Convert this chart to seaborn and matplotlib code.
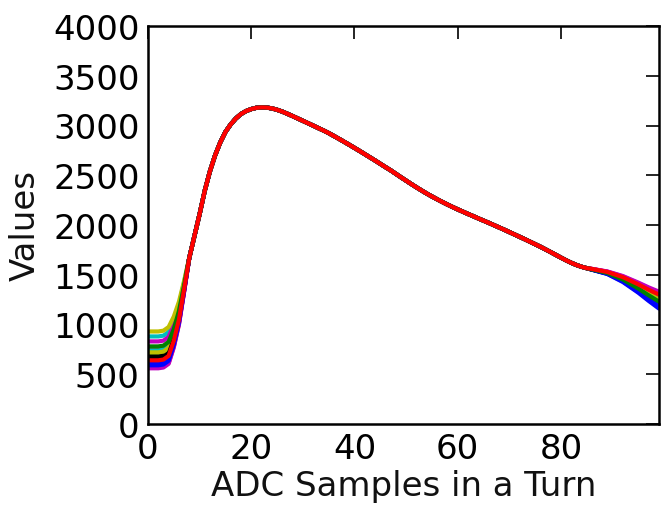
import numpy as np
import pandas as pd
import matplotlib
matplotlib.use("Agg")
import matplotlib.pyplot as plt
import seaborn as sns

# ---- data ----
line_colors = ["b", "g", "r", "c", "m", "y", "k",
               "b", "g", "r", "c", "m", "y", "k",
               "b", "g", "r"]

head_x = [0, 1, 2, 3, 4, 5, 6, 7]
heads = [
    [600, 600, 600, 608, 645, 804, 1025, 1342],
    [700, 700, 700, 708, 745, 887, 1087, 1372],
    [760, 760, 760, 768, 805, 938, 1124, 1389],
    [880, 880, 880, 888, 925, 1038, 1199, 1425],
    [830, 830, 830, 838, 875, 996, 1168, 1410],
    [930, 930, 930, 938, 975, 1080, 1230, 1440],
    [680, 680, 680, 688, 725, 871, 1075, 1366],
    [620, 620, 620, 628, 665, 820, 1037, 1348],
    [650, 650, 650, 658, 695, 845, 1056, 1357],
    [570, 570, 570, 578, 615, 778, 1006, 1333],
    [740, 740, 740, 748, 785, 921, 1112, 1384],
    [560, 560, 560, 568, 605, 770, 1000, 1330],
    [720, 720, 720, 728, 765, 904, 1099, 1378],
    [660, 660, 660, 668, 705, 854, 1062, 1360],
    [590, 590, 590, 598, 635, 795, 1019, 1339],
    [780, 780, 780, 788, 825, 954, 1137, 1395],
    [640, 640, 640, 648, 685, 837, 1050, 1354],
]

body_x = list(range(8, 86))
body = [1670, 1890, 2110, 2345, 2540, 2700, 2830, 2935, 3010, 3070,
        3115, 3145, 3165, 3178, 3182, 3180, 3172, 3158, 3140, 3118,
        3095, 3071, 3047, 3023, 2999, 2974, 2950, 2924, 2895, 2866,
        2836, 2806, 2775, 2744, 2712, 2680, 2648, 2615, 2582, 2550,
        2515, 2480, 2446, 2412, 2379, 2347, 2316, 2287, 2259, 2232,
        2206, 2181, 2157, 2134, 2111, 2089, 2066, 2044, 2022, 1999,
        1976, 1953, 1929, 1905, 1881, 1857, 1832, 1807, 1782, 1755,
        1728, 1700, 1672, 1645, 1620, 1598, 1580, 1566]

tail_x = [86, 89, 92, 95, 97, 99]
tails = [
    [1551, 1507, 1427, 1319, 1237, 1160],
    [1554, 1517, 1450, 1358, 1289, 1225],
    [1557, 1527, 1473, 1397, 1341, 1290],
    [1555, 1522, 1461, 1376, 1313, 1255],
    [1559, 1531, 1483, 1415, 1365, 1320],
    [1555, 1520, 1457, 1370, 1305, 1245],
    [1553, 1516, 1447, 1352, 1281, 1215],
    [1551, 1510, 1433, 1328, 1249, 1175],
    [1554, 1518, 1453, 1364, 1297, 1235],
    [1558, 1529, 1478, 1406, 1353, 1305],
    [1556, 1523, 1464, 1382, 1321, 1265],
    [1559, 1533, 1487, 1421, 1373, 1330],
    [1555, 1521, 1459, 1373, 1309, 1250],
    [1553, 1514, 1443, 1346, 1273, 1205],
    [1552, 1511, 1436, 1334, 1257, 1185],
    [1554, 1518, 1452, 1361, 1293, 1230],
    [1558, 1528, 1476, 1403, 1349, 1300],
]

x_ticks = [0, 20, 40, 60, 80]
y_ticks = [0, 500, 1000, 1500, 2000, 2500, 3000, 3500, 4000]

# ---- build long-form table ----
rows = []
xs = head_x + body_x + tail_x
for i in range(len(heads)):
    ys = heads[i] + body + tails[i]
    for xv, yv in zip(xs, ys):
        rows.append({"line": f"L{i:02d}", "x": xv, "y": yv})
df = pd.DataFrame(rows)

classic = {"b": (0, 0, 1), "g": (0, 0.5, 0), "r": (1, 0, 0),
           "c": (0, 0.75, 0.75), "m": (0.75, 0, 0.75),
           "y": (0.75, 0.75, 0), "k": (0, 0, 0)}
palette = [classic[c] for c in line_colors]
order = [f"L{i:02d}" for i in range(len(heads))]

sns.set_theme(style="white")
plt.rcParams["font.family"] = ["DejaVu Sans"]
plt.rcParams.update({
    "xtick.direction": "in", "ytick.direction": "in",
    "xtick.top": True, "ytick.right": True,
    "xtick.major.size": 9.5, "ytick.major.size": 9.5,
    "xtick.major.width": 1.2, "ytick.major.width": 1.2,
    "axes.edgecolor": "black", "axes.linewidth": 1.8,
    "xtick.color": "black", "ytick.color": "black",
})

fig = plt.figure(figsize=(6.61, 5.06), dpi=100)
ax = fig.add_axes([148 / 661, 1 - 425 / 506, (659 - 148) / 661, (425 - 27) / 506])

sns.lineplot(data=df, x="x", y="y", hue="line", hue_order=order,
             palette=palette, legend=False, estimator=None, sort=False,
             linewidth=3.0, ax=ax)

ax.set_xlim(0, 99)
ax.set_ylim(0, 4000)
ax.set_xticks(x_ticks)
ax.set_yticks(y_ticks)
ax.tick_params(labelsize=24.5, pad=6)
ax.set_xlabel("ADC Samples in a Turn", fontsize=24.5, color="#111111", labelpad=3)
ax.set_ylabel("Values", fontsize=24.5, color="#111111", labelpad=8)
for s in ax.spines.values():
    s.set_visible(True)
    s.set_color("black")

fig.savefig("out.png", dpi=100, facecolor="white")
